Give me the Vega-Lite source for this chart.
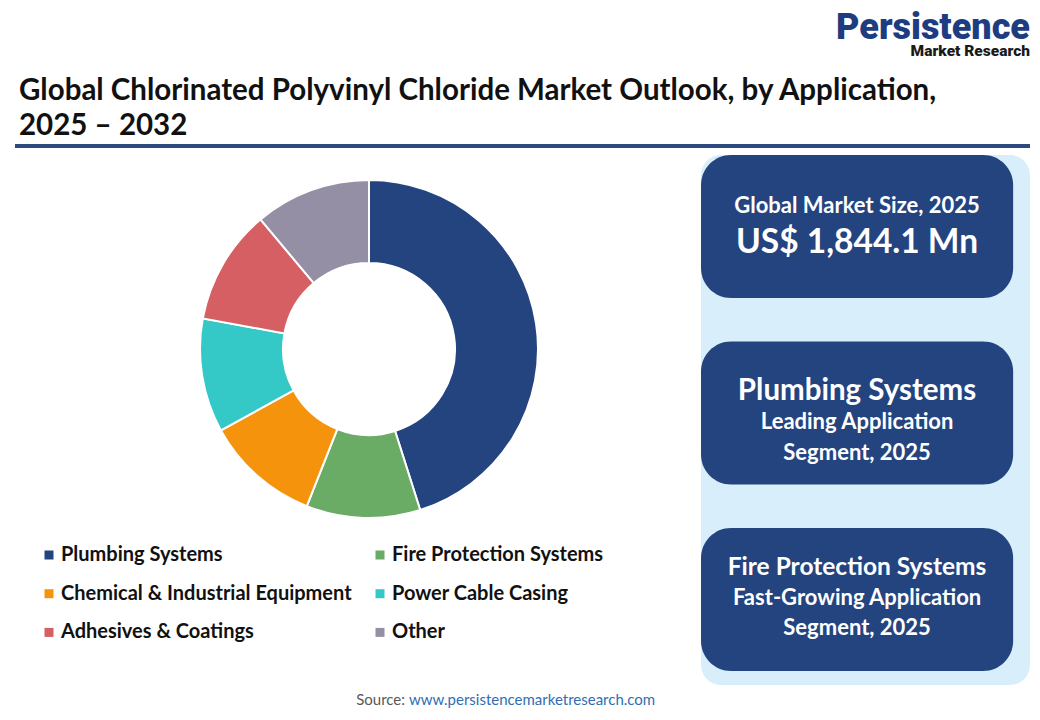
{
  "$schema": "https://vega.github.io/schema/vega-lite/v6.json",
  "background": "white",
  "padding": {"left": 15, "top": 10, "right": 10, "bottom": 0},
  "config": {
    "view": {"stroke": null},
    "font": "Lato"
  },
  "title": {
    "text": "Persistence",
    "subtitle": "Market Research",
    "anchor": "end",
    "font": "Roboto",
    "fontSize": 36,
    "fontWeight": 900,
    "color": "#1e3c80",
    "subtitleFont": "Roboto",
    "subtitleFontSize": 15.5,
    "subtitleFontWeight": 900,
    "subtitleColor": "#1a1a1a",
    "subtitlePadding": -3,
    "offset": 15
  },
  "datasets": {
    "segments": [
      {"application": "Plumbing Systems", "share": 45.1, "rank": 1},
      {"application": "Fire Protection Systems", "share": 10.9, "rank": 2},
      {"application": "Chemical & Industrial Equipment", "share": 11.0, "rank": 3},
      {"application": "Power Cable Casing", "share": 10.9, "rank": 4},
      {"application": "Adhesives & Coatings", "share": 11.0, "rank": 5},
      {"application": "Other", "share": 11.1, "rank": 6}
    ],
    "boxes": [
      {"box": "size"},
      {"box": "leader"},
      {"box": "growth"}
    ],
    "lines": [
      {"box": "size", "line": 1, "role": "caption", "text": "Global Market Size, 2025"},
      {"box": "size", "line": 2, "role": "headline", "text": "US$ 1,844.1 Mn"},
      {"box": "leader", "line": 1, "role": "headline", "text": "Plumbing Systems"},
      {"box": "leader", "line": 2, "role": "caption", "text": "Leading Application"},
      {"box": "leader", "line": 3, "role": "caption", "text": "Segment, 2025"},
      {"box": "growth", "line": 1, "role": "headline", "text": "Fire Protection Systems"},
      {"box": "growth", "line": 2, "role": "caption", "text": "Fast-Growing Application"},
      {"box": "growth", "line": 3, "role": "caption", "text": "Segment, 2025"}
    ],
    "source": [
      {"label": "Source:", "link": "www.persistencemarketresearch.com"}
    ]
  },
  "spacing": 7,
  "resolve": {"scale": {"color": "independent"}, "legend": {"color": "independent"}},
  "vconcat": [
    {
      "width": 1015,
      "height": 4,
      "view": {"fill": "#2c4a7d", "stroke": null},
      "title": {
        "text": ["Global Chlorinated Polyvinyl Chloride Market Outlook, by Application,", "2025 – 2032"],
        "anchor": "start",
        "font": "Lato",
        "fontSize": 29.5,
        "fontWeight": "bold",
        "color": "#111111",
        "lineHeight": 35,
        "offset": 3,
        "dx": 4
      },
      "data": {"values": []},
      "mark": "rule",
      "encoding": {}
    },
    {
      "spacing": 2,
      "resolve": {"scale": {"color": "independent"}, "legend": {"color": "independent"}},
      "hconcat": [
        {
          "width": 22,
          "height": 1,
          "data": {"values": []},
          "mark": "rule",
          "encoding": {}
        },
        {
          "width": 660,
          "height": 388,
          "data": {"name": "segments"},
          "mark": {"type": "arc", "innerRadius": 86, "outerRadius": 169, "stroke": "white", "strokeWidth": 2},
          "encoding": {
            "theta": {"field": "share", "type": "quantitative", "stack": true},
            "order": {"field": "rank", "type": "quantitative"},
            "color": {
              "field": "application",
              "type": "nominal",
              "scale": {
                "domain": ["Plumbing Systems", "Fire Protection Systems", "Chemical & Industrial Equipment", "Power Cable Casing", "Adhesives & Coatings", "Other"],
                "range": ["#23447f", "#6aab65", "#f5930c", "#34c9c6", "#d65f63", "#958fa5"]
              },
              "legend": {
                "orient": "bottom",
                "title": null,
                "columns": 2,
                "symbolType": "square",
                "symbolSize": 81,
                "symbolStrokeWidth": 0,
                "labelFont": "Lato",
                "labelFontSize": 20,
                "labelFontWeight": "bold",
                "labelColor": "#111111",
                "labelOffset": 2,
                "labelLimit": 400,
                "rowPadding": 18.7,
                "columnPadding": 18,
                "padding": 0,
                "offset": 2
              }
            }
          }
        },
        {
          "width": 329,
          "height": 530,
          "view": {"fill": "#d9eefb", "stroke": null, "cornerRadius": 20},
          "resolve": {"scale": {"yOffset": "independent"}},
          "encoding": {
            "x": {"datum": "summary", "type": "nominal", "axis": null, "scale": {"type": "band", "paddingInner": 0, "paddingOuter": 0.027, "align": 0}},
            "y": {"field": "box", "type": "nominal", "axis": null, "scale": {"type": "band", "domain": ["size", "leader", "growth"], "paddingInner": 0.233, "paddingOuter": 0.0375, "align": 0}}
          },
          "layer": [
            {
              "data": {"name": "boxes"},
              "mark": {"type": "rect", "color": "#24447f", "cornerRadius": 30}
            },
            {
              "data": {"name": "lines"},
              "transform": [{"filter": "datum.box === 'size' && datum.role === 'caption'"}],
              "mark": {"type": "text", "font": "Lato", "fontSize": 22, "fontWeight": "bold", "color": "white", "baseline": "top"},
              "encoding": {
                "yOffset": {"field": "line", "type": "ordinal", "scale": {"type": "point", "domain": [1, 2, 3], "range": [41, 102], "padding": 0}},
                "text": {"field": "text"}
              }
            },
            {
              "data": {"name": "lines"},
              "transform": [{"filter": "datum.box === 'size' && datum.role === 'headline'"}],
              "mark": {"type": "text", "font": "Lato", "fontSize": 33.5, "fontWeight": "bold", "color": "white", "baseline": "top"},
              "encoding": {
                "yOffset": {"field": "line", "type": "ordinal", "scale": {"type": "point", "domain": [1, 2, 3], "range": [41, 102], "padding": 0}},
                "text": {"field": "text"}
              }
            },
            {
              "data": {"name": "lines"},
              "transform": [{"filter": "datum.box === 'leader' && datum.role === 'headline'"}],
              "mark": {"type": "text", "font": "Lato", "fontSize": 29.5, "fontWeight": "bold", "color": "white", "baseline": "middle"},
              "encoding": {
                "yOffset": {"field": "line", "type": "ordinal", "scale": {"type": "point", "domain": [1, 2, 3], "range": [50, 112], "padding": 0}},
                "text": {"field": "text"}
              }
            },
            {
              "data": {"name": "lines"},
              "transform": [{"filter": "datum.box === 'growth' && datum.role === 'headline'"}],
              "mark": {"type": "text", "font": "Lato", "fontSize": 24.5, "fontWeight": "bold", "color": "white", "baseline": "middle"},
              "encoding": {
                "yOffset": {"field": "line", "type": "ordinal", "scale": {"type": "point", "domain": [1, 2, 3], "range": [40, 100], "padding": 0}},
                "text": {"field": "text"}
              }
            },
            {
              "data": {"name": "lines"},
              "transform": [{"filter": "datum.box === 'leader' && datum.role === 'caption'"}],
              "mark": {"type": "text", "font": "Lato", "fontSize": 22, "fontWeight": "bold", "color": "white", "baseline": "middle"},
              "encoding": {
                "yOffset": {"field": "line", "type": "ordinal", "scale": {"type": "point", "domain": [1, 2, 3], "range": [50, 112], "padding": 0}},
                "text": {"field": "text"}
              }
            },
            {
              "data": {"name": "lines"},
              "transform": [{"filter": "datum.box === 'growth' && datum.role === 'caption'"}],
              "mark": {"type": "text", "font": "Lato", "fontSize": 22, "fontWeight": "bold", "color": "white", "baseline": "middle"},
              "encoding": {
                "yOffset": {"field": "line", "type": "ordinal", "scale": {"type": "point", "domain": [1, 2, 3], "range": [40, 100], "padding": 0}},
                "text": {"field": "text"}
              }
            }
          ]
        }
      ]
    },
    {
      "width": 784,
      "height": 1,
      "data": {"name": "source"},
      "layer": [
        {
          "mark": {"type": "text", "align": "right", "dx": -2, "font": "Lato", "fontSize": 15, "color": "#595959", "baseline": "bottom"},
          "encoding": {"text": {"field": "label"}}
        },
        {
          "mark": {"type": "text", "align": "left", "dx": 2, "font": "Lato", "fontSize": 15, "color": "#2f6eb5", "baseline": "bottom"},
          "encoding": {"text": {"field": "link"}}
        }
      ]
    }
  ]
}
